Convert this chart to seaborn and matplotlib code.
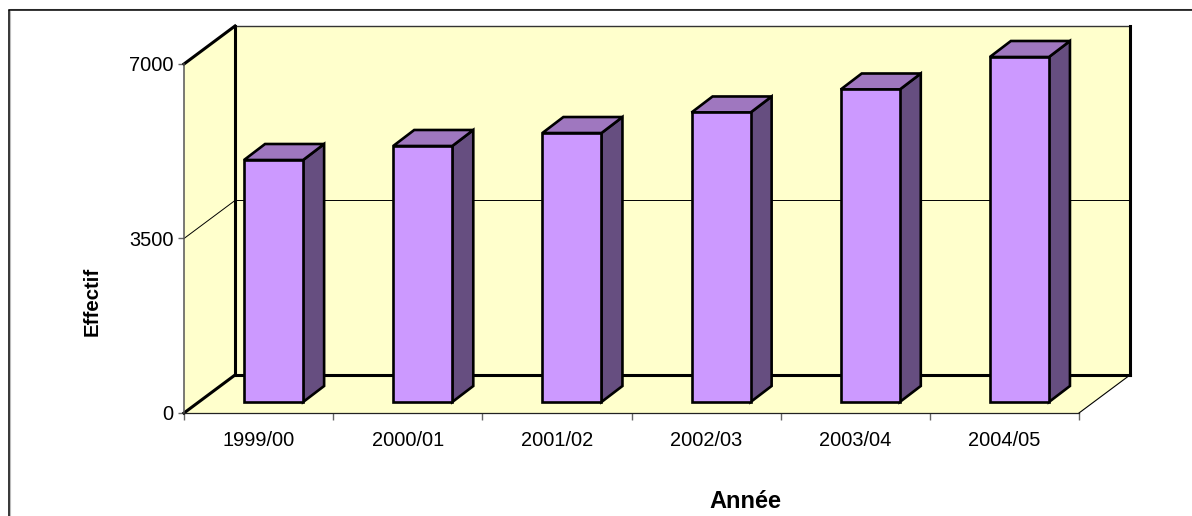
import matplotlib
matplotlib.use("Agg")
import matplotlib.pyplot as plt
from matplotlib.patches import Polygon
from matplotlib.lines import Line2D
from matplotlib.transforms import Affine2D
import seaborn as sns

annees = ["1999/00", "2000/01", "2001/02", "2002/03", "2003/04", "2004/05"]
effectifs = [4854, 5135, 5395, 5807, 6268, 6920]
yticks = [0, 3500, 7000]

W, H = 1192, 516
sns.set_theme(style="white")
plt.rcParams['font.family'] = ['Liberation Sans', 'DejaVu Sans']

fig = plt.figure(figsize=(W / 100, H / 100), dpi=100)
# front plane of the fake 3D box, in pixels
ax = fig.add_axes([184 / W, (H - 413) / H, (1079 - 184) / W, (413 - 64) / H])

sns.barplot(x=annees, y=effectifs, color="#CC99FF", saturation=1, width=0.396,
            edgecolor="black", linewidth=1.9, ax=ax, zorder=4)
ax.set_xlim(-0.5, 5.5)
ax.set_ylim(0, 7000)
x0, x1 = ax.get_xlim()
y0, y1 = ax.get_ylim()
px_x = (x1 - x0) / (1079 - 184)
px_y = (y1 - y0) / (413 - 64)

# depth offsets
back = ax.transData + Affine2D().translate(51, 38)
mid = ax.transData + Affine2D().translate(15, 11)

def poly(pts, color, tr, z=1):
    ax.add_patch(Polygon(pts, closed=True, fc=color, ec="none", transform=tr,
                         clip_on=False, zorder=z))

wall = "#FFFFCC"
poly([(x0, y0), (x1, y0), (x1, y1), (x0, y1)], wall, back)
# left wall and floor go from front plane to back plane
bx = 51 * px_x
by = 38 * px_y
poly([(x0, y0), (x0 + bx, y0 + by), (x0 + bx, y1 + by), (x0, y1)], wall, ax.transData)
poly([(x0, y0), (x1, y0), (x1 + bx, y0 + by), (x0 + bx, y0 + by)], wall, ax.transData)

def seg(xs, ys, lw, color="black", z=2):
    ax.add_line(Line2D(xs, ys, lw=lw, color=color, clip_on=False, zorder=z,
                       solid_capstyle="projecting"))

# grid line at mid height
seg([x0, x0 + bx, x1 + bx], [3500, 3500 + by, 3500 + by], 0.7)
# box edges
seg([x0 + bx, x0 + bx], [y0 + by, y1 + by], 2.2)
seg([x0 + bx, x1 + bx], [y1 + by, y1 + by], 1.0, "#333333")
seg([x1 + bx, x1 + bx], [y0 + by, y1 + by], 2.2)
seg([x0 + bx, x1 + bx], [y0 + by, y0 + by], 2.2)
seg([x0, x0 + bx], [y1, y1 + by], 2.2)
seg([x0, x0 + bx], [y0, y0 + by], 2.2)
seg([x1, x1 + bx], [y0, y0 + by], 0.8)
seg([x0, x0], [y0, y1], 1.1, "#555555")
seg([x0, x1], [y0, y0], 0.9, "#222222")

# bars sit a little behind the front plane
dx = 21 * px_x
dy = 16 * px_y
for p in ax.patches[:len(annees)]:
    p.set_transform(mid)
    p.set_clip_on(False)
    l, b, w, h = p.get_x(), p.get_y(), p.get_width(), p.get_height()
    ax.add_patch(Polygon([(l + w, b), (l + w + dx, b + dy), (l + w + dx, b + h + dy), (l + w, b + h)],
                         closed=True, fc="#664E80", ec="black", lw=1.9, transform=mid,
                         clip_on=False, zorder=3, joinstyle="miter"))
    ax.add_patch(Polygon([(l, b + h), (l + w, b + h), (l + w + dx, b + h + dy), (l + dx, b + h + dy)],
                         closed=True, fc="#9F77BF", ec="black", lw=1.9, transform=mid,
                         clip_on=False, zorder=3, joinstyle="miter"))

for s in ax.spines.values():
    s.set_visible(False)
ax.patch.set_visible(False)
ax.set_yticks(yticks)
ax.set_xticks(range(len(annees)))
ax.set_xticklabels(annees)
ax.set_xticks([x0 + i for i in range(len(annees) + 1)], minor=True)
ax.tick_params(axis="x", which="major", length=0, pad=13, labelsize=14.4, colors="black")
ax.tick_params(axis="x", which="minor", length=5, width=1, color="#666666", bottom=True)
ax.tick_params(axis="y", length=4.5, width=1, color="#666666", left=True, pad=3, labelsize=14.4, labelcolor="black")

fig.text(745 / W, 1 - 501 / H, "Année", ha="center", va="center", fontsize=17, fontweight="bold", color="black")
fig.text(92 / W, 1 - 301 / H, "Effectif", ha="center", va="center", rotation=90, fontsize=14.7, fontweight="bold", color="black")

# chart frame, only top and left fall inside the picture
fig.add_artist(Line2D([9.8 / W, 9.8 / W], [0, 1 - 10.5 / H], lw=0.8, color="#BBBBBB"))
fig.add_artist(Line2D([9.5 / W, 1], [1 - 8.5 / H, 1 - 8.5 / H], lw=0.8, color="#AAAAAA"))
fig.add_artist(Line2D([8.5 / W, 8.5 / W], [0, 1 - 9.5 / H], lw=1.1, color="black"))
fig.add_artist(Line2D([8.5 / W, 1], [1 - 9.5 / H, 1 - 9.5 / H], lw=1.1, color="black"))

fig.savefig("out.png", dpi=100)
